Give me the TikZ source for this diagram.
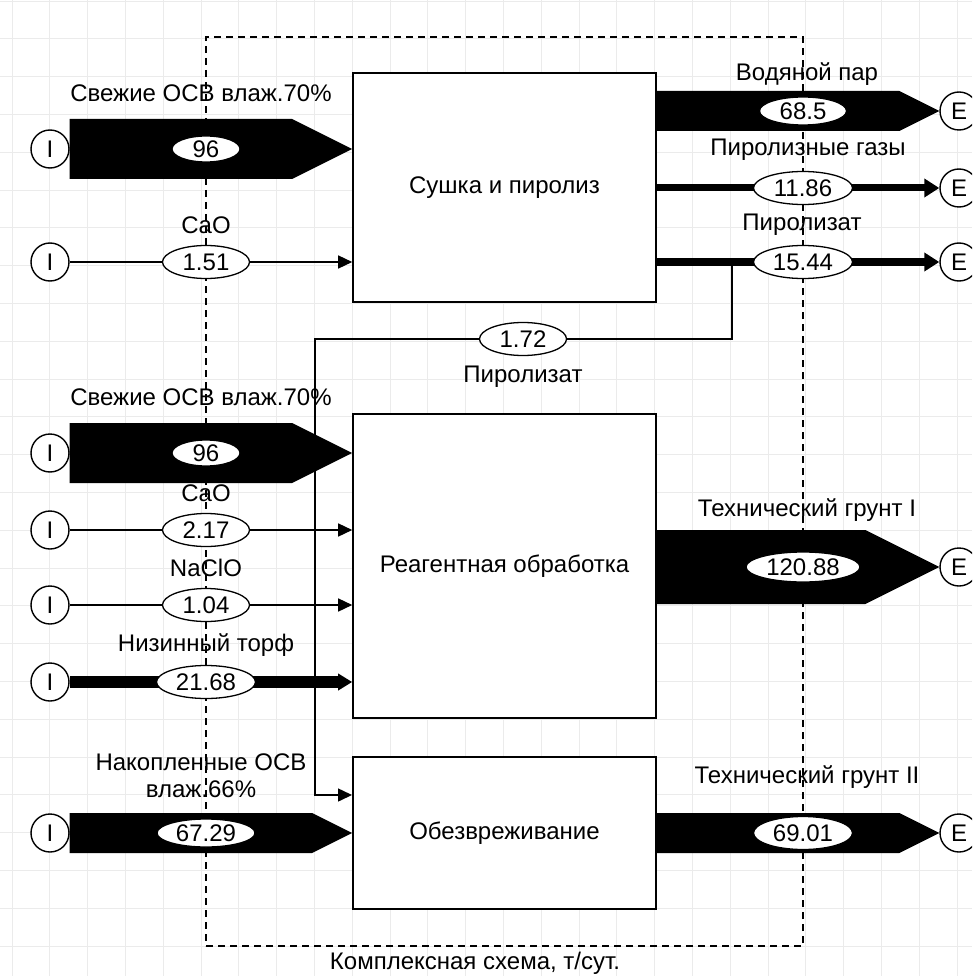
\documentclass[tikz,border=0pt]{standalone}
\usepackage{fontspec}
\setmainfont{Liberation Sans}
\usetikzlibrary{arrows.meta,shapes.geometric,calc}

% wide flow: body with a pointed head, head as long as the flow is wide
\newcommand{\fatflow}[3]{%
  \fill let \p1=(#1), \p2=(#2) in
    (\x1,{\y1+#3pt}) -- ({\x2-2*#3pt},{\y1+#3pt}) -- (\x2,\y1)
    -- ({\x2-2*#3pt},{\y1-#3pt}) -- (\x1,{\y1-#3pt}) -- cycle;}

\begin{document}
\begin{tikzpicture}[
        x=1pt, y=-1pt,
        font=\fontsize{24}{27}\selectfont,
        gridline/.style={draw=black!8, line width=0.8pt},
        block/.style={draw, line width=1.6pt, fill=white, minimum width=303},
        term/.style={circle, draw, fill=white, line width=1.4pt, minimum size=38, inner sep=0pt},
        val/.style={ellipse, draw, fill=white, line width=1.3pt, inner sep=0pt,
            minimum height=33, minimum width=#1},
        val/.default=87,
        thinflow/.style={line width=1.5pt, -{Triangle[length=14pt,width=13pt]}},
        boldflow/.style={line width=#1, -{Triangle[length=15pt,width=18pt]}},
        frame/.style={draw, dash pattern=on 7pt off 5pt, line width=1.5pt}
    ]
    \clip (0,0) rectangle (972,976);
    \fill[white] (0,0) rectangle (972,976);
    % background grid
    \foreach \k in {0,...,25}{
        \draw[gridline] ({12+37.8*\k},0) -- ({12+37.8*\k},976);
        \draw[gridline] (0,{1+37.8*\k}) -- (972,{1+37.8*\k});
    }
    % border of the complex scheme
    \node[frame, minimum width=597, minimum height=909, inner sep=0pt] (cplx) at (504.5,491.5) {};
    \node (cplxlab) at (475,963) {Комплексная схема, т/сут.};

    % process blocks
    \node[block, minimum height=229] (dry) at (504.5,187.5) {Сушка и пиролиз};
    \node[block, minimum height=304] (treat) at (504.5,566) {Реагентная обработка};
    \node[block, minimum height=152] (neut) at (504.5,833) {Обезвреживание};

    % sources and sinks
    \node[term] (i1) at (50,149) {I};
    \node[term] (i2) at (50,262) {I};
    \node[term] (i3) at (50,453) {I};
    \node[term] (i4) at (50,530) {I};
    \node[term] (i5) at (50,605) {I};
    \node[term] (i6) at (50,682) {I};
    \node[term] (i7) at (50,833) {I};
    \node[term] (e1) at (959,111) {E};
    \node[term] (e2) at (959,188) {E};
    \node[term] (e3) at (959,262) {E};
    \node[term] (e4) at (959,567) {E};
    \node[term] (e5) at (959,833) {E};

    % inputs
    \fatflow{i1.east}{dry.west |- i1}{30}
    \draw[thinflow] (i2) -- (dry.west |- i2);
    \fatflow{i3.east}{treat.west |- i3}{30}
    \draw[thinflow] (i4) -- (treat.west |- i4);
    \draw[thinflow] (i5) -- (treat.west |- i5);
    \draw[line width=12pt, -{Triangle[length=14pt,width=16pt]}] (i6) -- (treat.west |- i6);
    \fatflow{i7.east}{neut.west |- i7}{20}

    % outputs
    \fatflow{dry.east |- e1}{e1.west}{20}
    \draw[boldflow=7pt] (dry.east |- e2) -- (e2);
    \draw[boldflow=8pt] (dry.east |- e3) -- (e3);
    \fatflow{treat.east |- e4}{e4.west}{37}
    \fatflow{neut.east |- e5}{e5.west}{20}

    % pyrolysate back to the last block
    \coordinate (br) at (732,262);
    \coordinate (bk) at (315,339);
    \coordinate (in3) at (352,795);
    \draw[thinflow] (br) |- (bk) |- (in3);

    % flow names
    \node (l1) at (201,93) {Свежие ОСВ влаж.70\%};
    \node (l2) at (206,225) {CaO};
    \node (l3) at (201,397) {Свежие ОСВ влаж.70\%};
    \node (l4) at (206,493) {CaO};
    \node (l5) at (206,568) {NaClO};
    \node (l6) at (206,645) {Низинный торф};
    \node[align=center] (l7) at (201,776) {Накопленные ОСВ\\влаж.66\%};
    \node (l8) at (807,74) {Водяной пар};
    \node (l9) at (808,150) {Пиролизные газы};
    \node (l10) at (802,225) {Пиролизат};
    \node (l11) at (807,510) {Технический грунт I};
    \node (l12) at (807,777) {Технический грунт II};
    \node (l13) at (523,377) {Пиролизат};

    % flow values
    \node[val=68, minimum height=26] (v1) at (206,149) {96};
    \node[val] (v2) at (206,262) {1.51};
    \node[val=68, minimum height=26] (v3) at (206,453) {96};
    \node[val] (v4) at (206,530) {2.17};
    \node[val] (v5) at (206,605) {1.04};
    \node[val=99] (v6) at (206,682) {21.68};
    \node[val=98, minimum height=28] (v7) at (206,833) {67.29};
    \node[val, minimum height=28] (v8) at (803,111) {68.5};
    \node[val=99] (v9) at (803,188) {11.86};
    \node[val=99] (v10) at (803,262) {15.44};
    \node[val=114, minimum height=30] (v11) at (803,567) {120.88};
    \node[val=99] (v12) at (803,833) {69.01};
    \node[val] (v13) at (523,339) {1.72};
\end{tikzpicture}
\end{document}
